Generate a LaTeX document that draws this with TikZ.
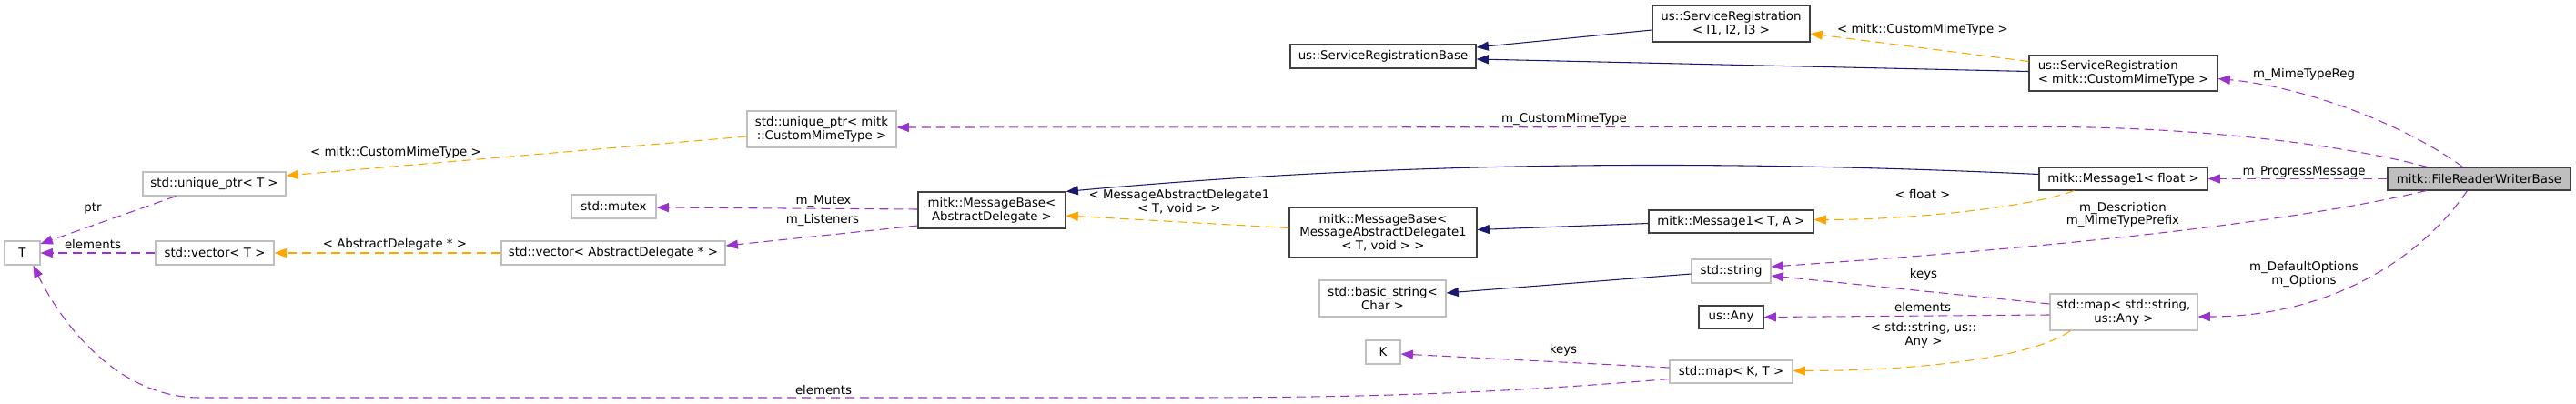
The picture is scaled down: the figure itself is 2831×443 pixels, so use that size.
\documentclass[tikz,border=0pt]{standalone}
\usepackage{fontspec}
\setmainfont{DejaVu Sans}
\usetikzlibrary{arrows.meta,calc}
\definecolor{navy}{RGB}{25,25,112}
\definecolor{tmpl}{RGB}{255,165,0}
\definecolor{orchid}{RGB}{154,50,205}
\definecolor{pale}{RGB}{191,191,191}
\definecolor{ink}{RGB}{64,64,64}
\tikzset{
  >={Triangle[length=10pt,width=7.5pt]},
  txt/.style={font=\fontsize{10}{11}\selectfont},
  cls/.style={draw=ink,fill=white,line width=0.8pt,txt,align=center,inner sep=1pt},
  ext/.style={cls,draw=pale},
  root/.style={cls,fill=pale},
  wh/.style 2 args={minimum width=#1*0.75pt,minimum height=#2*0.75pt},
  inherit/.style={->,draw=navy,line width=0.8pt},
  inst/.style={->,draw=tmpl,line width=0.8pt,dash pattern=on 7.5pt off 4.5pt},
  uses/.style={->,draw=orchid,line width=0.8pt,dash pattern=on 7.5pt off 4.5pt},
  lbl/.style={txt,align=center,inner sep=0pt},
}
\begin{document}
\begin{tikzpicture}[x=0.75pt,y=-0.75pt]
  \useasboundingbox[fill=white] (0,0) rectangle (2831,443);
  % classes
  \node[root,wh={201}{25}] (frwb) at (2724.5,196.5) {mitk::FileReaderWriterBase};
  \node[cls,wh={207}{39},align=left] (srcmt) at (2333.5,80.5) {us::ServiceRegistration\\< mitk::CustomMimeType >};
  \node[cls,wh={173}{40}] (sri) at (1902.5,26) {us::ServiceRegistration\\< I1, I2, I3 >};
  \node[cls,wh={204}{26}] (srb) at (1520,62) {us::ServiceRegistrationBase};
  \node[ext,wh={164}{40}] (upc) at (903,142) {std::unique\_ptr< mitk\\::CustomMimeType >};
  \node[ext,wh={157}{26}] (upt) at (235.5,202) {std::unique\_ptr< T >};
  \node[ext,wh={39}{26}] (T) at (24.5,278) {T};
  \node[ext,wh={130}{26}] (vt) at (236,278) {std::vector< T >};
  \node[ext,wh={93}{26}] (mutex) at (674.5,227) {std::mutex};
  \node[ext,wh={246}{26}] (vad) at (674,278) {std::vector< AbstractDelegate * >};
  \node[cls,wh={162}{40}] (mbad) at (1090,231) {mitk::MessageBase<\\AbstractDelegate >};
  \node[cls,wh={206}{55}] (mbmad) at (1520,255.5) {mitk::MessageBase<\\MessageAbstractDelegate1\\< T, void > >};
  \node[cls,wh={181}{25}] (m1ta) at (1902.5,243.5) {mitk::Message1< T, A >};
  \node[cls,wh={185}{25}] (m1f) at (2333.5,196.5) {mitk::Message1< float >};
  \node[ext,wh={139}{40}] (bsc) at (1519.5,328) {std::basic\_string<\\Char >};
  \node[ext,wh={87}{26}] (str) at (1902.5,298) {std::string};
  \node[cls,wh={71}{25}] (any) at (1902.5,348.5) {us::Any};
  \node[ext,wh={38}{26}] (K) at (1520,387) {K};
  \node[ext,wh={135}{25}] (mkt) at (1902.5,408.5) {std::map< K, T >};
  \node[ext,wh={162}{40}] (msa) at (2334,343) {std::map< std::string,\\us::Any >};
  % inheritance
  \draw[inherit] ($(sri.west)+(0,7)$) -- ($(srb.east)+(0,-10)$);
  \draw[inherit] ($(srcmt.west)+(0,-2)$) -- ($(srb.east)+(0,3)$);
  \draw[inherit] ($(m1f.west)+(0,-5)$) .. controls (1900,176) and (1550,176) .. (mbad.north east);
  \draw[inherit] ($(m1ta.west)+(0,2)$) -- ($(mbmad.east)+(0,-3)$);
  \draw[inherit] ($(str.west)+(0,3)$) -- ($(bsc.east)+(0,-6)$);
  % template instances
  \draw[inst] ($(srcmt.west)+(0,-13)$) -- ($(sri.east)+(0,11)$);
  \draw[inst] ($(upc.west)+(0,8)$) -- ($(upt.east)+(0,-9)$);
  \draw[inst] (vad.west) -- (vt.east);
  \draw[inst] ($(mbmad.west)+(0,-5)$) -- ($(mbad.east)+(0,6)$);
  \draw[inst] ($(m1f.south west)+(39,0)$) .. controls (2230,228) and (2100,241.5) .. ($(m1ta.east)+(0,-2)$);
  \draw[inst] ($(msa.south west)+(23,0)$) .. controls (2230,395) and (2100,407.5) .. ($(mkt.east)+(0,-1)$);
  % members
  \draw[uses] ($(frwb.north)+(-18,0)$) .. controls (2640,135) and (2530,95) .. ($(srcmt.east)+(0,6)$);
  \draw[uses] ($(frwb.north)+(-57,0)$) .. controls (2580,160) and (2420,139.5) .. (2250,139.5) -- ($(upc.east)+(0,-2)$);
  \draw[uses] (frwb.west) -- (m1f.east);
  \draw[uses] ($(frwb.south)+(-58,0)$) .. controls (2560,235) and (2350,266) .. ($(str.east)+(0,-5)$);
  \draw[uses] ($(frwb.south)+(-13,0)$) .. controls (2660,285) and (2560,348) .. ($(msa.east)+(0,5)$);
  \draw[uses] ($(msa.west)+(0,-9)$) -- ($(str.east)+(0,5)$);
  \draw[uses] ($(msa.west)+(0,3)$) -- (any.east);
  \draw[uses] ($(mkt.west)+(0,-4.5)$) -- ($(K.east)+(0,2)$);
  \draw[uses] ($(mkt.west)+(0,8)$) .. controls (1650,432) and (1500,437) .. (1300,437)
    -- (220,437) .. controls (120,437) and (60,340) .. ($(T.south)+(12,0)$);
  \draw[uses] ($(mbad.west)+(0,-1)$) -- ($(mutex.east)+(0,1)$);
  \draw[uses] ($(mbad.west)+(0,17)$) -- ($(vad.east)+(0,-8)$);
  \draw[uses] ($(upt.south west)+(37,0)$) -- ($(T.east)+(0,-10)$);
  \draw[uses] (vt.west) -- (T.east);
  % edge labels
  \node[lbl] (l-srcmt) at (2113,33) {< mitk::CustomMimeType >};
  \node[lbl] (l-upc) at (435,168) {< mitk::CustomMimeType >};
  \node[lbl] (l-vad) at (434,269) {< AbstractDelegate * >};
  \node[lbl] (l-mbmad) at (1296,222) {< MessageAbstractDelegate1\\< T, void > >};
  \node[lbl] (l-m1f) at (2113,214) {< float >};
  \node[lbl] (l-msa) at (2114,368) {< std::string, us::\\Any >};
  \node[lbl] (l-reg) at (2532,82) {m\_MimeTypeReg};
  \node[lbl] (l-cmt) at (1719,131) {m\_CustomMimeType};
  \node[lbl] (l-prog) at (2532,189) {m\_ProgressMessage};
  \node[lbl] (l-desc) at (2333,236) {m\_Description\\m\_MimeTypePrefix};
  \node[lbl] (l-opt) at (2532,301.5) {m\_DefaultOptions\\m\_Options};
  \node[lbl] (l-skeys) at (2114,302) {keys};
  \node[lbl] (l-selem) at (2113,338) {elements};
  \node[lbl] (l-kkeys) at (1718,385) {keys};
  \node[lbl] (l-telem) at (905,429) {elements};
  \node[lbl] (l-mutex) at (905,221) {m\_Mutex};
  \node[lbl] (l-list) at (904,242) {m\_Listeners};
  \node[lbl] (l-ptr) at (102,229) {ptr};
  \node[lbl] (l-velem) at (102,269) {elements};
\end{tikzpicture}
\end{document}
